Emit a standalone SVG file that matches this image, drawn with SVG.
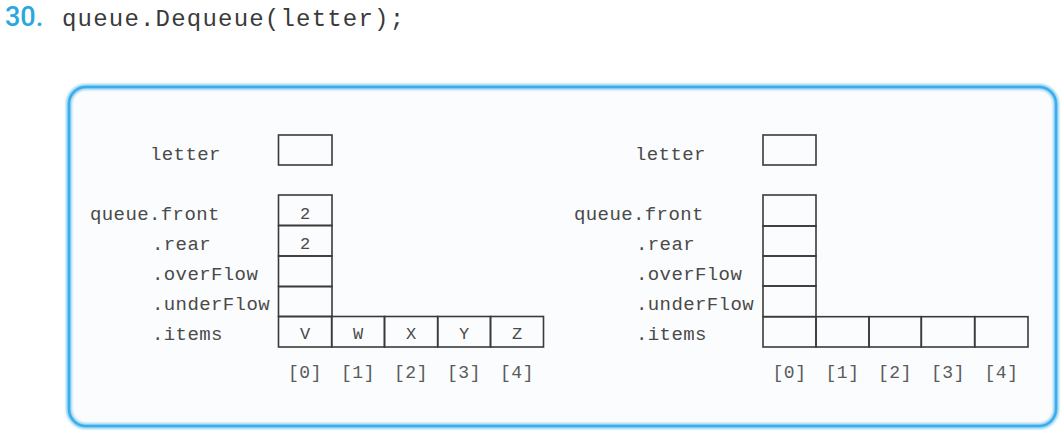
<svg xmlns="http://www.w3.org/2000/svg" width="1064" height="434" viewBox="0 0 1064 434">
<style>
.lbl{font-family:"Liberation Mono",monospace;font-size:19px;letter-spacing:0.4px;fill:#4a4a4a}
.val{font-family:"Liberation Mono",monospace;font-size:17px;fill:#4a4a4a;text-anchor:middle}
.idx{font-family:"Liberation Mono",monospace;font-size:18px;fill:#5a5a5a;text-anchor:middle;letter-spacing:0.5px}
.cell{fill:none;stroke:#3a3a3a;stroke-width:1.6}
</style>
<defs>
<filter id="glow" x="-5%" y="-5%" width="110%" height="110%"><feGaussianBlur stdDeviation="1.2"/></filter>
</defs>
<rect width="1064" height="434" fill="#ffffff"/>
<g id="title">
<text x="5" y="26" font-family="Roboto, Liberation Sans, sans-serif" font-weight="500" font-size="27" fill="#29a8e0">30.</text>
<text x="62" y="26" font-family="Liberation Mono, monospace" font-size="24" letter-spacing="1.2" fill="#3a3a3a">queue.Dequeue(letter);</text>
</g>
<g id="frame">
<rect x="69" y="87" width="987" height="339" rx="17" fill="#fbfcfd" stroke="#8fd0f2" stroke-width="6" filter="url(#glow)"/>
<rect x="69" y="87" width="987" height="339" rx="17" fill="none" stroke="#3aaeea" stroke-width="2.5"/>
</g>
<g id="left-state">
<g id="left-labels">
<text class="lbl" x="150" y="160">letter</text>
<text class="lbl" x="90" y="220">queue.front</text>
<text class="lbl" x="152" y="250">.rear</text>
<text class="lbl" x="152" y="280">.overFlow</text>
<text class="lbl" x="152" y="310">.underFlow</text>
<text class="lbl" x="152" y="340">.items</text>
</g>
<g id="left-letter"><rect class="cell" x="278.5" y="135" width="53.5" height="30"/></g>
<g id="left-fields">
<rect class="cell" x="278.5" y="195" width="53.5" height="30.5"/>
<rect class="cell" x="278.5" y="225.5" width="53.5" height="30.5"/>
<rect class="cell" x="278.5" y="256" width="53.5" height="30.5"/>
<rect class="cell" x="278.5" y="286.5" width="53.5" height="30"/>
<text class="val" x="305" y="219">2</text>
<text class="val" x="305" y="249">2</text>
</g>
<g id="left-items">
<rect class="cell" x="278.5" y="316.5" width="53.2" height="30.5"/>
<rect class="cell" x="331.7" y="316.5" width="52.8" height="30.5"/>
<rect class="cell" x="384.5" y="316.5" width="53.2" height="30.5"/>
<rect class="cell" x="437.7" y="316.5" width="52.8" height="30.5"/>
<rect class="cell" x="490.5" y="316.5" width="53" height="30.5"/>
<text class="val" x="305" y="339">V</text>
<text class="val" x="358" y="339">W</text>
<text class="val" x="411" y="339">X</text>
<text class="val" x="464" y="339">Y</text>
<text class="val" x="517" y="339">Z</text>
<text class="idx" x="305" y="378">[0]</text>
<text class="idx" x="358" y="378">[1]</text>
<text class="idx" x="411" y="378">[2]</text>
<text class="idx" x="464" y="378">[3]</text>
<text class="idx" x="517" y="378">[4]</text>
</g>
</g>
<g id="right-state">
<g id="right-labels">
<text class="lbl" x="635" y="160">letter</text>
<text class="lbl" x="574" y="220">queue.front</text>
<text class="lbl" x="636" y="250">.rear</text>
<text class="lbl" x="636" y="280">.overFlow</text>
<text class="lbl" x="636" y="310">.underFlow</text>
<text class="lbl" x="636" y="340">.items</text>
</g>
<g id="right-letter"><rect class="cell" x="763" y="135" width="53" height="30"/></g>
<g id="right-fields">
<rect class="cell" x="763" y="195" width="53" height="31"/>
<rect class="cell" x="763" y="226" width="53" height="30"/>
<rect class="cell" x="763" y="256" width="53" height="30"/>
<rect class="cell" x="763" y="286" width="53" height="30.7"/>
</g>
<g id="right-items">
<rect class="cell" x="763" y="316.7" width="53" height="30.3"/>
<rect class="cell" x="816" y="316.7" width="53" height="30.3"/>
<rect class="cell" x="869" y="316.7" width="52.3" height="30.3"/>
<rect class="cell" x="921.3" y="316.7" width="53.4" height="30.3"/>
<rect class="cell" x="974.7" y="316.7" width="53.3" height="30.3"/>
<text class="idx" x="789.5" y="378">[0]</text>
<text class="idx" x="842.5" y="378">[1]</text>
<text class="idx" x="895" y="378">[2]</text>
<text class="idx" x="948" y="378">[3]</text>
<text class="idx" x="1001.5" y="378">[4]</text>
</g>
</g>
</svg>
